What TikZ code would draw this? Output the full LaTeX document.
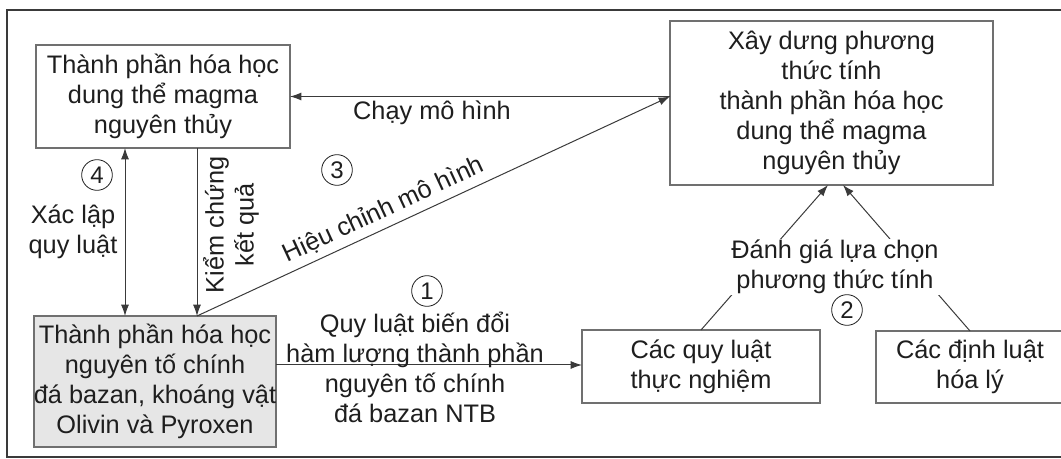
\documentclass[tikz,border=0pt]{standalone}
\usepackage{fontspec}
\setmainfont{Liberation Sans}
\usetikzlibrary{arrows.meta,calc}
\definecolor{ink}{HTML}{1E1E1E}
\definecolor{edge}{HTML}{707070}
\definecolor{wire}{HTML}{3A3A3A}
\definecolor{shade}{HTML}{E6E6E6}
\begin{document}
\begin{tikzpicture}[x=0.75pt,y=-0.75pt,
  txt/.style={font=\fontsize{19}{22.5}\selectfont,text=ink,align=center},
  box/.style={txt,draw=edge,line width=1.1pt,inner sep=0pt,outer sep=0pt},
  arr/.style={draw=wire,line width=0.75pt,-{Latex[length=8.5pt,width=6pt]}},
  dbl/.style={draw=wire,line width=0.75pt,{Latex[length=8.5pt,width=6pt]}-{Latex[length=8.5pt,width=6pt]}},
  num/.style={circle,draw=ink,line width=0.6pt,inner sep=0pt,minimum size=23pt,
    font=\fontsize{18}{18}\selectfont,text=ink}]
\useasboundingbox (0,0) rectangle (1061,459);
\clip (0,0) rectangle (1061,459);
% outer frame
\draw[draw=wire,line width=1.1pt] (7,10) rectangle (1075,457);

% boxes
\node[box,minimum width=190.5pt,minimum height=77.25pt] (A) at (163,96.5)
  {Thành phần hóa học\\dung thể magma\\nguyên thủy};
\node[box,minimum width=242.25pt,minimum height=123pt] (B) at (831.5,103)
  {Xây dưng phương\\thức tính\\thành phần hóa học\\dung thể magma\\nguyên thủy};
\node[box,fill=shade,minimum width=178.5pt,minimum height=98.25pt] (C) at (155,381.5)
  {Thành phần hóa học\\nguyên tố chính\\đá bazan, khoáng vật\\Olivin và Pyroxen};
\node[box,minimum width=178.5pt,minimum height=54.75pt] (D) at (701,366.5)
  {Các quy luật\\thực nghiệm};
\node[box,minimum width=141pt,minimum height=54pt] (E) at (970,367)
  {Các định luật\\hóa lý};

% helper coordinates for connector positions
\coordinate (xl) at (125,0);
\coordinate (xk) at (197,0);
\coordinate (yq) at (0,365);

% connectors
\draw[arr] (A.east -| B.west) -- (A.east);
\draw[arr] (A.south -| xk) -- (C.north -| xk);
\draw[dbl] (C.north -| xl) -- (A.south -| xl);
\draw[arr] (C.north -| xk) -- node[txt,pos=0.41,above=1pt,sloped] {Hiệu chỉnh mô hình} (A.east -| B.west);
\draw[arr] (C.east |- yq) -- (D.west |- yq);
\draw[arr] (D.north) -- ($(B.south)+(-3.5,0)$);
\draw[arr] (E.north) -- ($(B.south)+(11.5,0)$);

% labels
\node[txt] (lrun) at (432,113) {Chạy mô hình};
\node[txt] (lrule) at (73,232) {Xác lập\\quy luật};
\node[txt,rotate=90] (lcheck) at (231,225) {Kiểm chứng\\kết quả};
\node[txt] (ltrans) at (415,367) {Quy luật biến đổi\\hàm lượng thành phần\\nguyên tố chính\\đá bazan NTB};
\node[txt,fill=white,inner sep=1pt] (lpick) at (835,267) {Đánh giá lựa chọn\\phương thức tính};

% step numbers
\node[num] (n1) at (427,291) {1};
\node[num] (n2) at (847,310) {2};
\node[num] (n3) at (337,170) {3};
\node[num] (n4) at (97,175) {4};
\end{tikzpicture}
\end{document}
